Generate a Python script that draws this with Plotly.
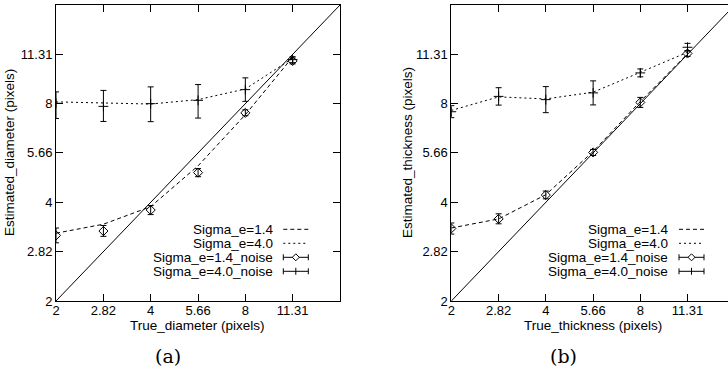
import numpy as np
import plotly.graph_objects as go

# ---------------- data ----------------
x_true = [2, 2.83, 4, 5.66, 8, 11.31]
tick_vals = [2, 2.83, 4, 5.66, 8, 11.31]
tick_text = ["2", "2.82", "4", "5.66", "8", "11.31"]
diag = [2, 16]

# panel (a): diameter
a_line_14 = [3.22, 3.43, 3.88, 5.17, 7.40, 11.10]
a_line_40 = [8.10, 8.02, 7.98, 8.23, 8.87, 11.00]
a_noise_14 = [3.17, 3.27, 3.79, 4.93, 7.50, 10.80]
a_noise_14_hi = [3.34, 3.40, 3.91, 5.07, 7.66, 11.03]
a_noise_14_lo = [3.01, 3.15, 3.67, 4.79, 7.35, 10.58]
a_noise_40 = [8.02, 7.85, 8.00, 8.19, 8.83, 10.90]
a_noise_40_hi = [8.69, 8.78, 9.00, 9.15, 9.59, 11.13]
a_noise_40_lo = [7.21, 7.06, 7.05, 7.23, 8.13, 10.67]

# panel (b): thickness
b_line_14 = [3.34, 3.56, 4.22, 5.72, 8.12, 11.35]
b_line_40 = [7.63, 8.39, 8.27, 8.67, 9.97, 11.48]
b_noise_14 = [3.33, 3.56, 4.21, 5.68, 8.07, 11.38]
b_noise_14_hi = [3.46, 3.69, 4.33, 5.80, 8.36, 11.62]
b_noise_14_lo = [3.20, 3.44, 4.10, 5.56, 7.79, 11.15]
b_noise_40 = [7.56, 8.42, 8.23, 8.63, 9.93, 11.89]
b_noise_40_hi = [7.89, 8.95, 9.02, 9.39, 10.21, 12.22]
b_noise_40_lo = [7.25, 7.92, 7.51, 7.93, 9.66, 11.57]

legend_labels = ["Sigma_e=1.4", "Sigma_e=4.0", "Sigma_e=1.4_noise", "Sigma_e=4.0_noise"]

W, H = 728, 372
FONT = "Liberation Sans"


def px(x):
    return x / W


def py(y):
    return 1 - y / H


fig = go.Figure()


def add_panel(xa, ya, l14, l40, n14, n14hi, n14lo, n40, n40hi, n40lo):
    fig.add_trace(go.Scatter(x=diag, y=diag, mode="lines", xaxis=xa, yaxis=ya,
                             line=dict(color="black", width=1), showlegend=False))
    fig.add_trace(go.Scatter(x=x_true, y=l14, mode="lines", xaxis=xa, yaxis=ya,
                             line=dict(color="black", width=1, dash="4px,3px"), showlegend=False))
    fig.add_trace(go.Scatter(x=x_true, y=l40, mode="lines", xaxis=xa, yaxis=ya,
                             line=dict(color="black", width=1, dash="2px,3px"), showlegend=False))
    fig.add_trace(go.Scatter(
        x=x_true, y=n14, mode="markers", xaxis=xa, yaxis=ya, showlegend=False,
        marker=dict(symbol="diamond-open", size=7, color="black", line=dict(width=1, color="black")),
        error_y=dict(type="data", symmetric=False,
                     array=[h - v for h, v in zip(n14hi, n14)],
                     arrayminus=[v - l for v, l in zip(n14, n14lo)],
                     color="black", thickness=1, width=3)))
    fig.add_trace(go.Scatter(
        x=x_true, y=n40, mode="markers", xaxis=xa, yaxis=ya, showlegend=False,
        marker=dict(symbol="cross-thin", size=7, color="black", line=dict(width=1, color="black")),
        error_y=dict(type="data", symmetric=False,
                     array=[h - v for h, v in zip(n40hi, n40)],
                     arrayminus=[v - l for v, l in zip(n40, n40lo)],
                     color="black", thickness=1, width=3)))


add_panel("x", "y", a_line_14, a_line_40, a_noise_14, a_noise_14_hi, a_noise_14_lo,
          a_noise_40, a_noise_40_hi, a_noise_40_lo)
add_panel("x2", "y2", b_line_14, b_line_40, b_noise_14, b_noise_14_hi, b_noise_14_lo,
          b_noise_40, b_noise_40_hi, b_noise_40_lo)

axis_common = dict(type="log", showgrid=False, zeroline=False, showline=True, automargin=False,
                   linecolor="black", linewidth=1, ticks="inside", ticklen=7,
                   tickcolor="black", tickwidth=1, tickvals=tick_vals, ticktext=tick_text,
                   tickfont=dict(family=FONT, size=13, color="black"))

y_dom = [py(301), py(5)]
l2 = np.log10(2)
r_end = l2 * (1 + (W - 451.3) / 94.5)

fig.update_layout(
    width=W, height=H, autosize=False,
    margin=dict(l=0, r=0, t=0, b=0, pad=0, autoexpand=False),
    paper_bgcolor="white", plot_bgcolor="white", showlegend=False,
    xaxis=dict(axis_common, domain=[px(56), px(340)], range=[l2, np.log10(16)],
               mirror="ticks", anchor="y", ticklabelstandoff=-3),
    yaxis=dict(axis_common, domain=y_dom, range=[l2, np.log10(16)],
               mirror="ticks", anchor="x"),
    xaxis2=dict(axis_common, domain=[px(451.3), 1.0], range=[l2, r_end],
                mirror="ticks", anchor="y2", ticklabelstandoff=-3),
    yaxis2=dict(axis_common, domain=y_dom, range=[l2, np.log10(16)],
                mirror=False, anchor="x2"),
)

annotations = []
shapes = []

# axis titles and panel labels
for cx, xt, yt, yc, lab in [(198, "True_diameter (pixels)", "Estimated_diameter (pixels)", 9, "(a)"),
                            (593, "True_thickness (pixels)", "Estimated_thickness (pixels)", 407, "(b)")]:
    annotations.append(dict(x=px(cx), y=py(325), xref="paper", yref="paper", text=xt,
                            showarrow=False, xanchor="center", yanchor="middle",
                            font=dict(family=FONT, size=13.5, color="black")))
    annotations.append(dict(x=px(yc), y=py(153), xref="paper", yref="paper", text=yt,
                            showarrow=False, xanchor="center", yanchor="middle", textangle=-90,
                            font=dict(family=FONT, size=13.5, color="black")))
    annotations.append(dict(x=px(cx - 30), y=py(356), xref="paper",
                            yref="paper", text=lab, showarrow=False, xanchor="center",
                            yanchor="middle", font=dict(family="DejaVu Serif", size=19, color="black")))

# legends (key drawn on the right of right-aligned text, gnuplot style)
rows = [229.3, 243.3, 257.3, 271.3]
for text_end, k0, k1 in [(275, 283.3, 308.3), (670, 679, 704)]:
    for i, (lab, ry) in enumerate(zip(legend_labels, rows)):
        annotations.append(dict(x=px(text_end), y=py(ry), xref="paper", yref="paper", text=lab,
                                showarrow=False, xanchor="right", yanchor="middle",
                                font=dict(family=FONT, size=13.5, color="black")))
        dash = ["4px,3px", "2px,3px", "solid", "solid"][i]
        shapes.append(dict(type="line", xref="paper", yref="paper", x0=px(k0), x1=px(k1),
                           y0=py(ry), y1=py(ry), line=dict(color="black", width=1, dash=dash)))
        if i >= 2:
            for kx in (k0, k1):
                shapes.append(dict(type="line", xref="paper", yref="paper", x0=px(kx), x1=px(kx),
                                   y0=py(ry - 3), y1=py(ry + 3), line=dict(color="black", width=1)))
            cxk = (k0 + k1) / 2
            if i == 2:
                path = "M {} {} L {} {} L {} {} L {} {} Z".format(
                    px(cxk), py(ry - 3.5), px(cxk + 3.5), py(ry), px(cxk), py(ry + 3.5),
                    px(cxk - 3.5), py(ry))
                shapes.append(dict(type="path", xref="paper", yref="paper", path=path,
                                   fillcolor="white", line=dict(color="black", width=1)))
            else:
                shapes.append(dict(type="line", xref="paper", yref="paper", x0=px(cxk), x1=px(cxk),
                                   y0=py(ry - 3.5), y1=py(ry + 3.5), line=dict(color="black", width=1)))

fig.update_layout(annotations=annotations, shapes=shapes)

page_js = """
var st=document.createElement('style');
st.innerHTML='html,body{margin:0;padding:0;overflow:hidden;}';
document.head.appendChild(st);
"""

fig.write_html("out.html",
               config={"responsive": False, "displayModeBar": False, "staticPlot": True},
               post_script=page_js)
